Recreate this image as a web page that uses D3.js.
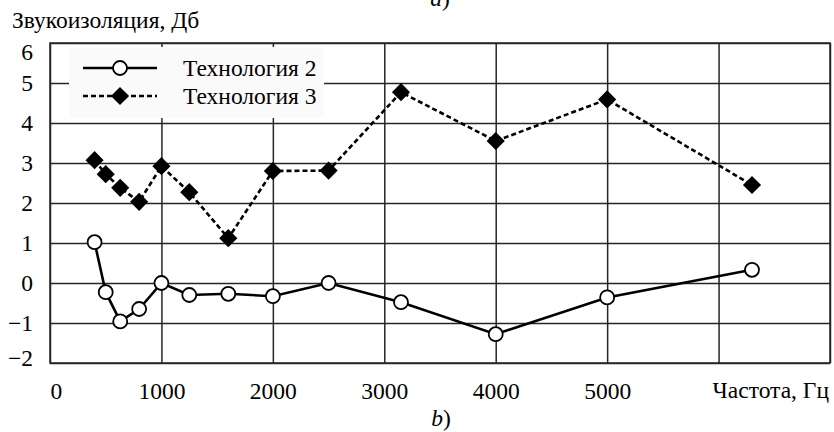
<!DOCTYPE html>
<html>
<head>
<meta charset="utf-8">
<script src="https://cdn.jsdelivr.net/npm/d3@7"></script>
<style>
  body { margin: 0; background: #fff; }
</style>
</head>
<body>
<div id="chart"></div>
<script>
// data
var freq = [400, 500, 630, 800, 1000, 1250, 1600, 2000, 2500, 3150, 4000, 5000, 6300];
var tech2 = [1.02, -0.23, -0.96, -0.65, 0.0, -0.3, -0.27, -0.33, 0.0, -0.48, -1.28, -0.36, 0.33];
var tech3 = [3.07, 2.72, 2.38, 2.03, 2.92, 2.27, 1.12, 2.8, 2.81, 4.77, 3.55, 4.59, 2.45];
var seriesNames = ["Технология 2", "Технология 3"];
var xTicks = [0, 1000, 2000, 3000, 4000, 5000, 6000, 7000];
var xTickLabels = ["0", "1000", "2000", "3000", "4000", "5000", "", ""];
var yTicks = [-2, -1, 0, 1, 2, 3, 4, 5, 6];

// set the dimensions and margins of the graph
var margin = {top: 43, right: 4, bottom: 69, left: 50},
    width = 834 - margin.left - margin.right,
    height = 432 - margin.top - margin.bottom;

var gridColor = "#262626";
var serif = "'Liberation Serif'";
var fontSize = "23.5px";

var root = d3.select("#chart")
    .append("svg")
    .attr("width", 834)
    .attr("height", 432);

var svg = root.append("g")
    .attr("transform", "translate(" + margin.left + "," + margin.top + ")");

var x = d3.scaleLinear().domain([0, 7000]).range([0, width]);
var y = d3.scaleLinear().domain([-2, 6]).range([height, 0]);

// Y axis + horizontal grid
var yAxis = svg.append("g")
    .call(d3.axisLeft(y).tickValues(yTicks).tickSize(-width).tickPadding(17)
        .tickFormat(function (d) { return d < 0 ? "\u2212" + Math.abs(d) : d; }));
yAxis.select(".domain").remove();
yAxis.selectAll(".tick line").attr("stroke", gridColor).attr("stroke-width", 1.5);
yAxis.selectAll(".tick text")
    .style("font-size", fontSize)
    .attr("dy", function (d) {
        // the end labels sit inside the frame
        if (d === 6) return "0.72em";
        if (d === -2) return "0.1em";
        return "0.32em";
    });

// X axis + vertical grid
var xAxis = svg.append("g")
    .attr("transform", "translate(0," + height + ")")
    .call(d3.axisBottom(x).tickValues(xTicks).tickSize(-height).tickPadding(19)
        .tickFormat(function (d, i) { return xTickLabels[i]; }));
xAxis.select(".domain").remove();
xAxis.selectAll(".tick line").attr("stroke", gridColor).attr("stroke-width", 1.5);
xAxis.selectAll(".tick text")
    .style("font-size", fontSize)
    .attr("text-anchor", function (d) { return d === 0 ? "start" : "middle"; });

// frame
svg.append("rect")
    .attr("x", 0).attr("y", 0)
    .attr("width", width).attr("height", height)
    .attr("fill", "none")
    .attr("stroke", gridColor)
    .attr("stroke-width", 1.5);

// legend box (covers the grid)
var legend = svg.append("g").attr("transform", "translate(19,4)");
legend.append("rect")
    .attr("width", 255).attr("height", 71)
    .attr("fill", "#fafafa");

var line = d3.line()
    .x(function (d) { return x(d[0]); })
    .y(function (d) { return y(d[1]); });

var diamond = d3.symbol().type(d3.symbolSquare).size(165);

// Технология 3 (dashed, diamonds)
var pts3 = freq.map(function (f, i) { return [f, tech3[i]]; });
svg.append("path")
    .datum(pts3)
    .attr("d", line)
    .attr("fill", "none")
    .attr("stroke", "#000")
    .attr("stroke-width", 2.6)
    .attr("stroke-dasharray", "5,3");
svg.selectAll(".dia")
    .data(pts3)
    .enter().append("path")
    .attr("class", "dia")
    .attr("d", diamond)
    .attr("transform", function (d) { return "translate(" + x(d[0]) + "," + y(d[1]) + ") rotate(45)"; })
    .attr("fill", "#000");

// Технология 2 (solid, open circles)
var pts2 = freq.map(function (f, i) { return [f, tech2[i]]; });
svg.append("path")
    .datum(pts2)
    .attr("d", line)
    .attr("fill", "none")
    .attr("stroke", "#000")
    .attr("stroke-width", 2.6);
svg.selectAll(".dot")
    .data(pts2)
    .enter().append("circle")
    .attr("class", "dot")
    .attr("cx", function (d) { return x(d[0]); })
    .attr("cy", function (d) { return y(d[1]); })
    .attr("r", 7)
    .attr("fill", "#fff")
    .attr("stroke", "#000")
    .attr("stroke-width", 1.8);

// legend entries
var rows = [21, 49];
seriesNames.forEach(function (name, i) {
    var g = legend.append("g").attr("transform", "translate(0," + rows[i] + ")");
    g.append("line")
        .attr("x1", 14).attr("x2", 88)
        .attr("stroke", "#000")
        .attr("stroke-width", 2.6)
        .attr("stroke-dasharray", i === 1 ? "5,3" : null);
    if (i === 0) {
        g.append("circle").attr("cx", 51).attr("r", 7)
            .attr("fill", "#fff").attr("stroke", "#000").attr("stroke-width", 1.8);
    } else {
        g.append("path").attr("d", diamond)
            .attr("transform", "translate(51,0) rotate(45)").attr("fill", "#000");
    }
    g.append("text")
        .attr("x", 114).attr("y", 8)
        .style("font-size", fontSize)
        .text(name);
});

// titles
root.append("text")
    .attr("x", 12).attr("y", 28)
    .style("font-size", fontSize)
    .text("Звукоизоляция, Дб");

root.append("text")
    .attr("x", margin.left + width - 1).attr("y", 398)
    .attr("text-anchor", "end")
    .style("font-size", fontSize)
    .text("Частота, Гц");

var cap1 = root.append("text").attr("x", 441).attr("y", 426)
    .attr("text-anchor", "middle").style("font-size", fontSize);
cap1.append("tspan").style("font-style", "italic").text("b");
cap1.append("tspan").text(")");

var cap0 = root.append("text").attr("x", 440).attr("y", 6)
    .attr("text-anchor", "middle").style("font-size", fontSize);
cap0.append("tspan").style("font-style", "italic").text("a");
cap0.append("tspan").text(")");

// serif everywhere, also over the axis defaults
root.selectAll("text").style("font-family", serif).attr("fill", "#000");
</script>
</body>
</html>
